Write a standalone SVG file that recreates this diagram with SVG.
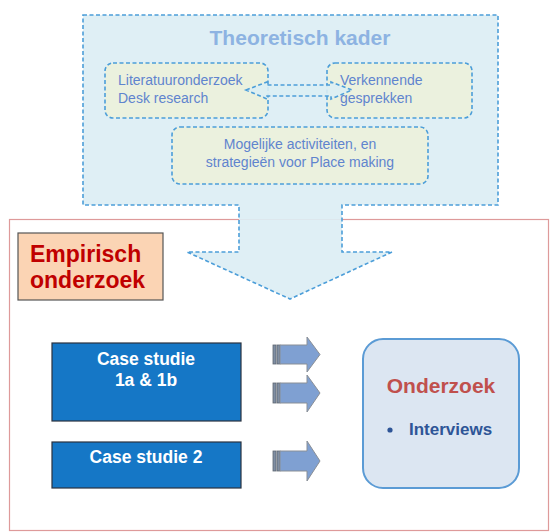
<svg xmlns="http://www.w3.org/2000/svg" width="550" height="532" viewBox="0 0 550 532">
<defs>
<style>
.dash{stroke:#4C9ED9;stroke-width:1.6;stroke-dasharray:4,2.5;}
.sub{fill:#EBF1DE;}
.t{font-family:"Liberation Sans",Arial,sans-serif;}
.lt{fill:#5F84CE;font-size:14px;}
.case{fill:#1577C6;stroke:#2A3340;stroke-width:1.2;}
.ct{fill:#FFFFFF;font-size:17.5px;font-weight:bold;}
.blk{fill:#7FA0D2;stroke:#8A8F96;stroke-width:1;}
.bar{fill:#7F8EA3;stroke:#5E6670;stroke-width:0.8;}
</style>
</defs>
<rect width="550" height="532" fill="#FFFFFF"/>
<g id="empirisch-frame">
<rect x="9.5" y="219.5" width="539" height="311" fill="#FFFFFF" stroke="#DE9A9A" stroke-width="1.2"/>
</g>
<g id="theoretisch-kader">
<path class="dash" d="M83,15 H498 V205 H342 V252 H392 L290,299 L187,252 H239 V205 H83 Z" fill="#DCEEF4" fill-opacity="0.92"/>
<text class="t" x="300" y="45" text-anchor="middle" font-size="21" font-weight="bold" fill="#8DB3E2">Theoretisch kader</text>
</g>
<g id="literatuur">
<rect class="dash sub" x="105" y="63" width="163" height="55" rx="8"/>
<text class="t lt" x="118" y="85">Literatuuronderzoek</text>
<text class="t lt" x="118" y="103">Desk research</text>
</g>
<g id="verkennende">
<rect class="dash sub" x="327" y="63" width="145" height="55" rx="8"/>
<text class="t lt" x="340" y="85">Verkennende</text>
<text class="t lt" x="340" y="103">gesprekken</text>
</g>
<g id="mogelijke">
<rect class="dash sub" x="172" y="127" width="256" height="57" rx="8"/>
<text class="t lt" x="300" y="149" text-anchor="middle">Mogelijke activiteiten, en</text>
<text class="t lt" x="300" y="167" text-anchor="middle">strategieën voor Place making</text>
</g>
<g id="connectors">
<path class="dash" d="M246,90 L267,82 V85 H331 V82 L352,90 L331,99 V96 H267 V99 Z" fill="#DCEEF4" fill-opacity="0.9"/>
<g id="arrow1">
<rect class="bar" x="273" y="345" width="3" height="19"/>
<rect class="bar" x="277" y="345" width="3" height="19"/>
<path class="blk" d="M280,345 H307 V337 L320,354.5 L307,372 V364 H280 Z"/>
</g>
<g id="arrow2">
<rect class="bar" x="273" y="383" width="3" height="20"/>
<rect class="bar" x="277" y="383" width="3" height="20"/>
<path class="blk" d="M280,383 H307 V375 L320,393 L307,412 V403 H280 Z"/>
</g>
<g id="arrow3">
<rect class="bar" x="273" y="451" width="3" height="20"/>
<rect class="bar" x="277" y="451" width="3" height="20"/>
<path class="blk" d="M280,451 H307 V441 L320,461 L307,481 V471 H280 Z"/>
</g>
</g>
<g id="empirisch-label">
<rect x="18" y="233" width="145" height="67" fill="#FBD4B4" stroke="#555555" stroke-width="1.2"/>
<text class="t" x="30" y="262" font-size="23" font-weight="bold" fill="#C00000">Empirisch</text>
<text class="t" x="30" y="288" font-size="23" font-weight="bold" fill="#C00000">onderzoek</text>
</g>
<g id="case1">
<rect class="case" x="52" y="343" width="189" height="78"/>
<text class="t ct" x="146" y="365" text-anchor="middle">Case studie</text>
<text class="t ct" x="146" y="386" text-anchor="middle">1a &amp; 1b</text>
</g>
<g id="case2">
<rect class="case" x="52" y="442" width="189" height="46"/>
<text class="t ct" x="146" y="463" text-anchor="middle">Case studie 2</text>
</g>
<g id="onderzoek">
<rect x="363" y="339" width="156" height="149" rx="20" fill="#DCE6F2" stroke="#5B9BD5" stroke-width="2"/>
<text class="t" x="441" y="393" text-anchor="middle" font-size="21" font-weight="bold" fill="#C0504D">Onderzoek</text>
<circle cx="390" cy="430" r="2.6" fill="#2E5597"/>
<text class="t" x="409" y="435" font-size="17" font-weight="bold" fill="#2E5597">Interviews</text>
</g>
</svg>
